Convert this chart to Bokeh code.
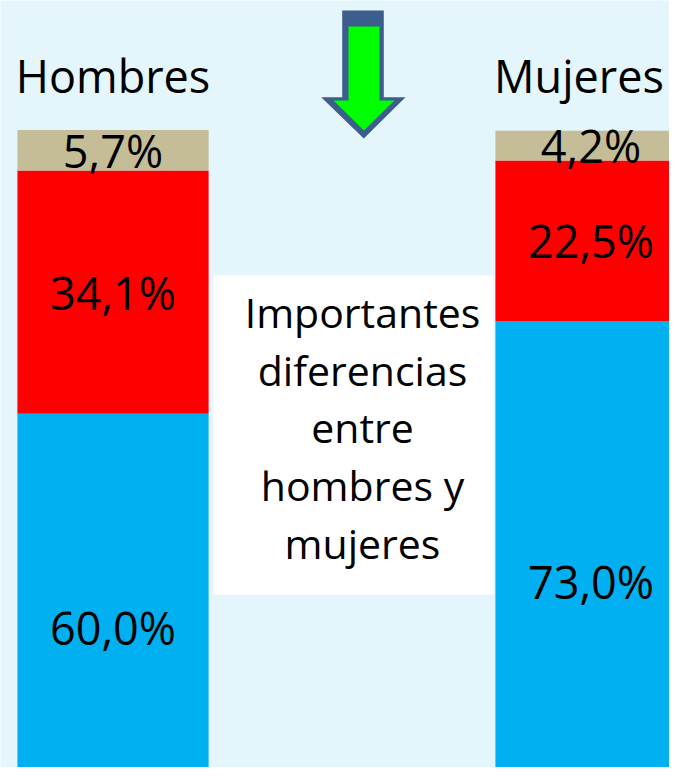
import numpy as np
from bokeh.plotting import figure
from bokeh.models import ColumnDataSource, Range1d
from bokeh.core.properties import value
from bokeh.embed import file_html
from bokeh.resources import INLINE

# ---- data ----
groups = ["Hombres", "Mujeres"]
serie_1 = [60.0, 73.0]   # blue (bottom)
serie_2 = [34.1, 22.5]   # red (middle)
serie_3 = [5.7, 4.2]     # tan (top)
stack_names = ["serie_1", "serie_2", "serie_3"]
stack_colors = ["#00B0F0", "#FF0000", "#C4BD97"]
note_text = "Importantes\ndiferencias\nentre\nhombres y\nmujeres"

BG = "#E4F5FC"
FONT = "Open Sans"

W, H = 669, 767
p = figure(width=W, height=H, output_backend="svg", toolbar_location=None,
           x_range=Range1d(-0.2354, 1.1642), y_range=Range1d(10.38, 117.95),
           min_border=0, background_fill_color=BG, border_fill_color=BG,
           outline_line_color=None)
p.axis.visible = False
p.grid.visible = False

# pixel-like helper ranges for decorations (y downward)
p.extra_x_ranges = {"px": Range1d(0, W)}
p.extra_y_ranges = {"px": Range1d(H, 0)}

xs = list(range(len(groups)))
src = ColumnDataSource(dict(x=xs, serie_1=serie_1, serie_2=serie_2, serie_3=serie_3))
p.vbar_stack(stack_names, x="x", width=0.4, color=stack_colors, line_color=None, source=src)

# segment labels
vals = np.array([serie_1, serie_2, serie_3])
tops = np.cumsum(vals, axis=0)
mids = tops - vals / 2
lx, ly, lt = [], [], []
for i in range(vals.shape[0]):
    for j in range(vals.shape[1]):
        lx.append(xs[j]); ly.append(mids[i, j])
        lt.append(f"{vals[i, j]:.1f}".replace(".", ",") + "%")
p.text(x=lx, y=ly, text=lt, text_align="center", text_baseline="middle",
       text_font=value(FONT), text_font_size="45px", text_color="black")

# group titles (right one nudged left so it stays inside the frame)
tsrc = ColumnDataSource(dict(x=xs, y=[75, 75], t=groups, dx=[0, -12]))
p.text(x="x", y="y", y_range_name="px", text="t", x_offset="dx", source=tsrc,
       text_align="center", text_baseline="alphabetic", text_font=value(FONT),
       text_font_size="45px", text_color="black")

# white note box
p.quad(left=[213], right=[493], top=[275], bottom=[594], x_range_name="px",
       y_range_name="px", fill_color="white", line_color=None)
p.text(x=[362], y=[427], x_range_name="px", y_range_name="px", text=[note_text],
       text_align="center", text_baseline="middle", text_font=value(FONT),
       text_font_size="41px", text_line_height=1.03, text_color="black")

# arrow
outer_x = [341.7, 383.3, 383.3, 405, 363.3, 320.7, 341.7]
outer_y = [10, 10, 96.7, 96.7, 138, 96.7, 96.7]
inner_x = [348, 379, 379, 394, 363.5, 333, 348]
inner_y = [26, 26, 100, 100, 130, 100, 100]
p.patch(outer_x, outer_y, x_range_name="px", y_range_name="px",
        fill_color="#3B5E8E", line_color=None)
p.patch(inner_x, inner_y, x_range_name="px", y_range_name="px",
        fill_color="#00FF00", line_color=None)

open("out.html", "w").write(file_html(p, INLINE))
